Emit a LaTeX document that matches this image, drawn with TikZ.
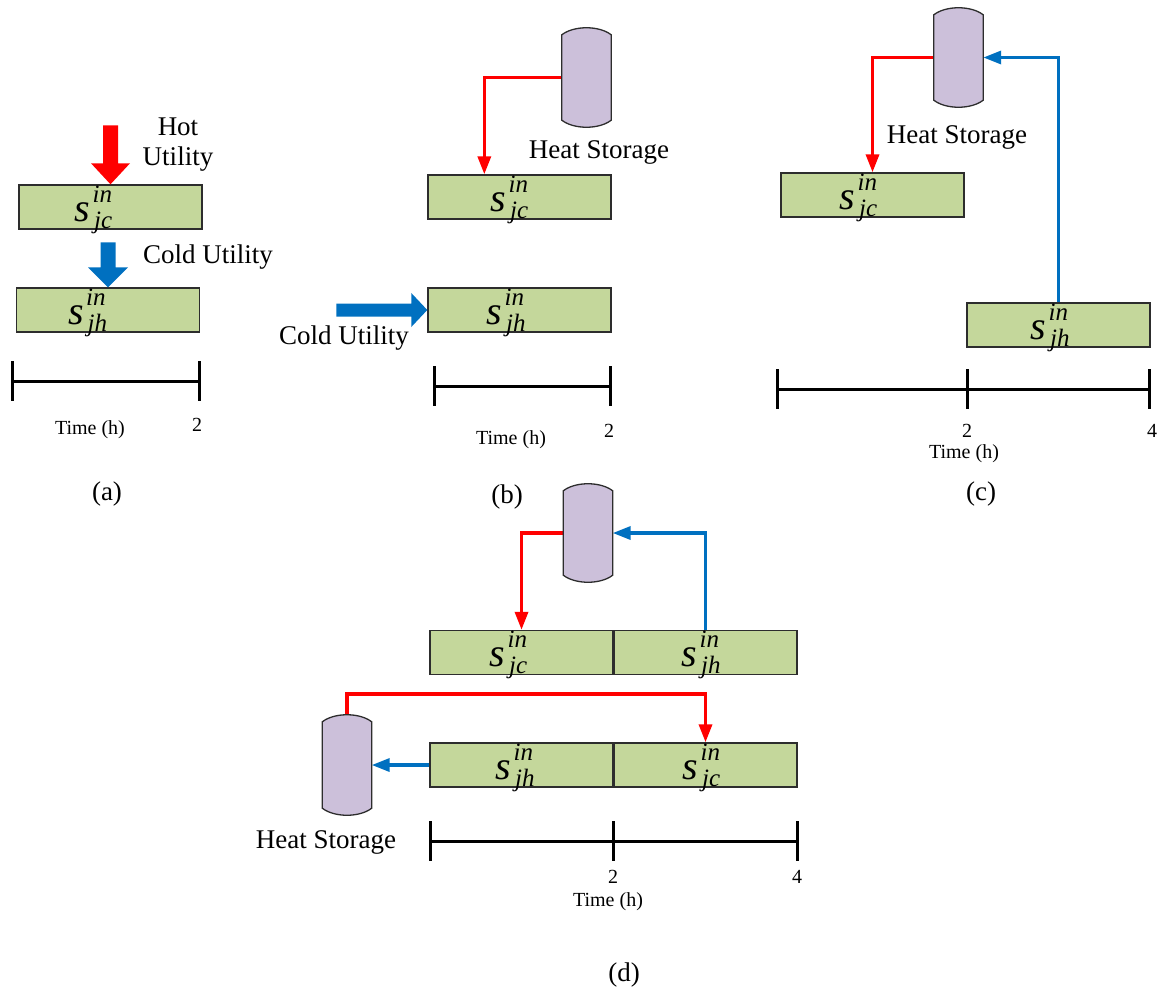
\documentclass[tikz,border=0pt]{standalone}
\usepackage{fontspec}
\setmainfont{Liberation Serif}
\usetikzlibrary{calc,arrows.meta}
\definecolor{boxgreen}{RGB}{196,215,155}
\definecolor{tankfill}{RGB}{204,192,218}
\definecolor{hotred}{RGB}{255,0,0}
\definecolor{coldblue}{RGB}{0,112,192}
\definecolor{edgegray}{RGB}{45,45,45}
\newcommand{\svar}[1]{{\fontsize{40}{40}\selectfont\itshape s}\kern2.5pt\rlap{\raisebox{19pt}{\fontsize{25}{25}\selectfont\itshape in}}\kern1.5pt\raisebox{-7pt}{\fontsize{25}{25}\selectfont\itshape #1}}
\newcommand{\tank}[1]{%
  \filldraw[tankstyle] (#1.north west) .. controls ($(#1.north west)+(12,-9.4)$) and ($(#1.north east)+(-12,-9.4)$) .. (#1.north east)
    -- (#1.south east) .. controls ($(#1.south east)+(-12,9.4)$) and ($(#1.south west)+(12,9.4)$) .. (#1.south west) -- cycle;}
\tikzset{
  slot/.style={draw=edgegray, line width=1.4pt, fill=boxgreen, minimum width=183pt, minimum height=44pt, inner sep=0pt},
  tanknode/.style={minimum width=49pt, minimum height=85pt, inner sep=0pt},
  tankstyle/.style={draw=edgegray, line width=1.3pt, fill=tankfill},
  hotflow/.style={draw=hotred, line width=3.4pt, -{Triangle[length=18pt,width=13pt]}},
  coldflow/.style={draw=coldblue, line width=3.4pt, -{Triangle[length=18pt,width=13pt]}},
  axis/.style={line width=3pt, draw=black},
  lbl/.style={font=\fontsize{27}{30}\selectfont, inner sep=0pt, align=center},
  small/.style={font=\fontsize{20}{22}\selectfont, inner sep=0pt},
  svarlbl/.style={anchor=base west, inner sep=0pt},
}
\begin{document}
\begin{tikzpicture}[x=1pt,y=-1pt]
\useasboundingbox (0,0) rectangle (1160,990);

% ---------------- (a)
\node[slot] (a1) at (110.5,207) {};
\node[slot] (a2) at (108,310) {};
\node[svarlbl] (a1l) at ($(a1.west)+(56,14)$) {\svar{jc}};
\node[svarlbl] (a2l) at ($(a2.west)+(52,14)$) {\svar{jh}};
\begin{scope}[shift={(a1.north)}]
  \fill[hotred] (0,0) -- (-19.5,-21) -- (-7.5,-21) -- (-7.5,-59) -- (7.5,-59) -- (7.5,-21) -- (19.5,-21) -- cycle;
\end{scope}
\begin{scope}[shift={(a2.north)}]
  \fill[coldblue] (0,0) -- (-20,-20) -- (-7.5,-20) -- (-7.5,-45) -- (7.5,-45) -- (7.5,-20) -- (20,-20) -- cycle;
\end{scope}
\node[lbl] (hotu) at (178,145) {Hot\\Utility};
\node[lbl] (coldua) at (208,257) {Cold Utility};
\coordinate (ta0) at (12,381);
\coordinate (ta1) at (199,381);
\draw[axis] (ta0) -- (ta1);
\draw[axis] ($(ta0)+(0,-20)$) -- ($(ta0)+(0,20)$);
\draw[axis] ($(ta1)+(0,-20)$) -- ($(ta1)+(0,20)$);
\node[small] (ta2) at (197,425) {2};
\node[small] (tat) at (90,430) {Time (h)};
\node[lbl] (pa) at (107,494) {(a)};

% ---------------- (b)
\node[slot] (b1) at (519.5,197) {};
\node[slot] (b2) at (519.5,310) {};
\node[svarlbl] (b1l) at ($(b1.west)+(63,14)$) {\svar{jc}};
\node[svarlbl] (b2l) at ($(b2.west)+(59,14)$) {\svar{jh}};
\node[tanknode] (bs) at (586.5,77.5) {};
\draw[hotflow] (bs.west) -| ($(b1.north west)+(57,0)$);
\tank{bs}
\node[lbl] (bsl) at (599,152) {Heat Storage};
\begin{scope}[shift={(b2.west)}]
  \fill[coldblue] (0,0) -- (-16,-17) -- (-16,-6.5) -- (-91,-6.5) -- (-91,6.5) -- (-16,6.5) -- (-16,17) -- cycle;
\end{scope}
\node[lbl] (cold b) at (344,338) {Cold Utility};
\coordinate (tb0) at (434,386);
\coordinate (tb1) at (610,386);
\draw[axis] (tb0) -- (tb1);
\draw[axis] ($(tb0)+(0,-20)$) -- ($(tb0)+(0,20)$);
\draw[axis] ($(tb1)+(0,-20)$) -- ($(tb1)+(0,20)$);
\node[small] (tb2) at (609,431) {2};
\node[small] (tbt) at (511,440) {Time (h)};
\node[lbl] (pb) at (507,497) {(b)};

% ---------------- (c)
\node[slot] (c1) at (872.5,195) {};
\node[slot] (c2) at (1058.5,325) {};
\node[svarlbl] (c1l) at ($(c1.west)+(59,14)$) {\svar{jc}};
\node[svarlbl] (c2l) at ($(c2.west)+(64,14)$) {\svar{jh}};
\node[tanknode] (cs) at (958.5,57.5) {};
\draw[hotflow] (cs.west) -| (c1.north);
\draw[coldflow] (c2.north) |- (cs.east);
\tank{cs}
\node[lbl] (csl) at (957,137) {Heat Storage};
\coordinate (tc0) at (777,389);
\coordinate (tc1) at (967,389);
\coordinate (tc2) at (1149,389);
\draw[axis] (tc0) -- (tc2);
\foreach \p in {tc0,tc1,tc2} {\draw[axis] ($(\p)+(0,-20)$) -- ($(\p)+(0,20)$);}
\node[small] (tc2l) at (967,431) {2};
\node[small] (tc4l) at (1152,431) {4};
\node[small] (tct) at (964,454) {Time (h)};
\node[lbl] (pc) at (981,494) {(c)};

% ---------------- (d)
\node[slot] (d1) at (521.5,652.5) {};
\node[slot] (d2) at (705.5,652.5) {};
\node[slot] (d3) at (521.5,765) {};
\node[slot] (d4) at (705.5,765) {};
\node[svarlbl] (d1l) at ($(d1.west)+(60,14)$) {\svar{jc}};
\node[svarlbl] (d2l) at ($(d2.west)+(68,14)$) {\svar{jh}};
\node[svarlbl] (d3l) at ($(d3.west)+(66,14)$) {\svar{jh}};
\node[svarlbl] (d4l) at ($(d4.west)+(69,14)$) {\svar{jc}};
\node[tanknode, minimum height=84pt] (dt) at (588,533) {};
\node[tanknode, minimum height=86pt] (db) at (347,765) {};
\draw[hotflow] (dt.west) -| (d1.north);
\draw[coldflow] (d2.north) |- (dt.east);
\draw[hotflow] (db.north) -- ++(0,-28) -| (d4.north);
\draw[coldflow] (d3.west) -- (db.east);
\tank{dt}
\tank{db}
\node[lbl] (dsl) at (326,842) {Heat Storage};
\coordinate (td0) at (430,841);
\coordinate (td1) at (613,841);
\coordinate (td2) at (797,841);
\draw[axis] (td0) -- (td2);
\foreach \p in {td0,td1,td2} {\draw[axis] ($(\p)+(0,-20)$) -- ($(\p)+(0,20)$);}
\node[small] (td2l) at (613,877) {2};
\node[small] (td4l) at (797,877) {4};
\node[small] (tdt) at (608,902) {Time (h)};
\node[lbl] (pd) at (624,975) {(d)};
\end{tikzpicture}
\end{document}
